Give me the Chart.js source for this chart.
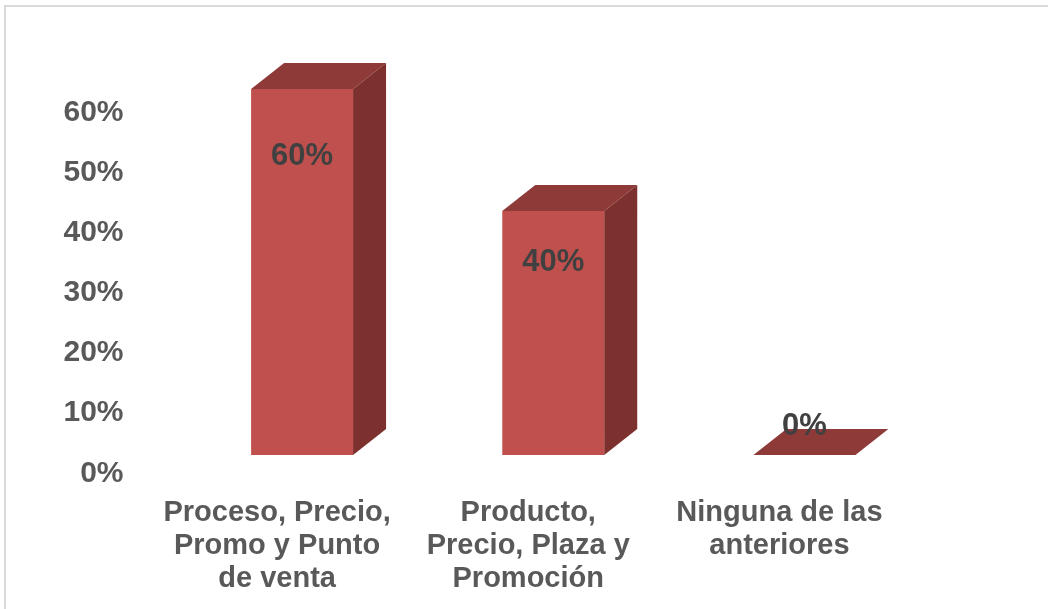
<!DOCTYPE html>
<html>
<head>
<meta charset="utf-8">
<script src="https://cdn.jsdelivr.net/npm/chart.js@4"></script>
<style>
  body { margin: 0; background: #fff; }
</style>
</head>
<body>
<canvas id="myCanvas" width="1048" height="609"></canvas>
<script>
const categories = [
    ['Proceso, Precio,', 'Promo y Punto', 'de venta'],
    ['Producto,', 'Precio, Plaza y', 'Promoción'],
    ['Ninguna de las', 'anteriores']
];
const shares = [0.60, 0.40, 0];
const yTickValues = [0, 0.1, 0.2, 0.3, 0.4, 0.5, 0.6];

const FRONT = '#C0504D';
const TOP = '#8E3A38';
const SIDE = '#7D312F';
const TEXT = '#595959';
const DEPTH_X = 33, DEPTH_Y = 26;

const pct = v => Math.round(v * 100) + '%';

// top and right faces of each box, built off the bar elements
const boxes = {
    id: 'boxes',
    beforeDraw(chart) {
        const c = chart.ctx;
        c.save();
        c.fillStyle = '#fff';
        c.fillRect(0, 0, chart.width, chart.height);
        c.strokeStyle = '#d9d9d9';
        c.lineWidth = 2;
        c.beginPath();
        c.moveTo(5, chart.height);
        c.lineTo(5, 6);
        c.lineTo(chart.width, 6);
        c.stroke();
        c.restore();
    },
    afterDatasetsDraw(chart) {
        const c = chart.ctx;
        chart.getDatasetMeta(0).data.forEach((bar, i) => {
            const l = bar.x - bar.width / 2, r = bar.x + bar.width / 2;
            const t = bar.y, b = bar.base;
            c.save();
            c.fillStyle = TOP;
            c.beginPath();
            c.moveTo(l, t);
            c.lineTo(l + DEPTH_X, t - DEPTH_Y);
            c.lineTo(r + DEPTH_X, t - DEPTH_Y);
            c.lineTo(r, t);
            c.closePath();
            c.fill();
            if (b - t > 0.5) {
                c.fillStyle = SIDE;
                c.beginPath();
                c.moveTo(r, t);
                c.lineTo(r + DEPTH_X, t - DEPTH_Y);
                c.lineTo(r + DEPTH_X, b - DEPTH_Y);
                c.lineTo(r, b);
                c.closePath();
                c.fill();
            }
            // value label
            const h = b - t;
            const ly = h > 0.5 ? t + 20 + h * 0.13 : b - 29;
            c.fillStyle = '#404040';
            c.font = 'bold 31px "Liberation Sans", Arial, sans-serif';
            c.textAlign = 'center';
            c.textBaseline = 'middle';
            c.fillText(pct(shares[i]), bar.x, ly);
            c.restore();
        });
    }
};

const ctx = document.getElementById('myCanvas').getContext('2d');

// plot area ends up spanning y 71..482 (tick padding of the left axis sets the top)
const myChart = new Chart(ctx, {
    type: 'bar',
    data: {
        labels: categories,
        datasets: [{
            data: shares,
            backgroundColor: FRONT,
            borderWidth: 0,
            yAxisID: 'y',
            barPercentage: 0.406,
            categoryPercentage: 1
        }]
    },
    options: {
        responsive: false,
        animation: false,
        layout: {
            padding: { top: 0, right: 118, left: 0, bottom: 0 }
        },
        plugins: {
            legend: { display: false },
            tooltip: { enabled: false }
        },
        scales: {
            x: {
                grid: { display: false, drawTicks: false },
                border: { display: false },
                ticks: {
                    color: TEXT,
                    padding: 14,
                    labelOffset: -25,
                    maxRotation: 0,
                    autoSkip: false,
                    font: { family: '"Liberation Sans", Arial, sans-serif', size: 29, weight: 'bold', lineHeight: 1.15 }
                },
                afterFit: scale => { scale.height = 127; }
            },
            y: {
                display: false,
                min: -0.04426,
                max: 0.62951
            },
            y2: {
                type: 'linear',
                position: 'left',
                min: -0.01454,
                max: 0.66856,
                grid: { display: false, drawTicks: false },
                border: { display: false },
                afterBuildTicks: scale => {
                    scale.ticks = yTickValues.map(v => ({ value: v }));
                },
                ticks: {
                    color: TEXT,
                    padding: 53,
                    callback: v => pct(v),
                    font: { family: '"Liberation Sans", Arial, sans-serif', size: 30, weight: 'bold' }
                },
                afterFit: scale => { scale.width = 176.5; }
            }
        }
    },
    plugins: [boxes]
});
</script>
</body>
</html>
